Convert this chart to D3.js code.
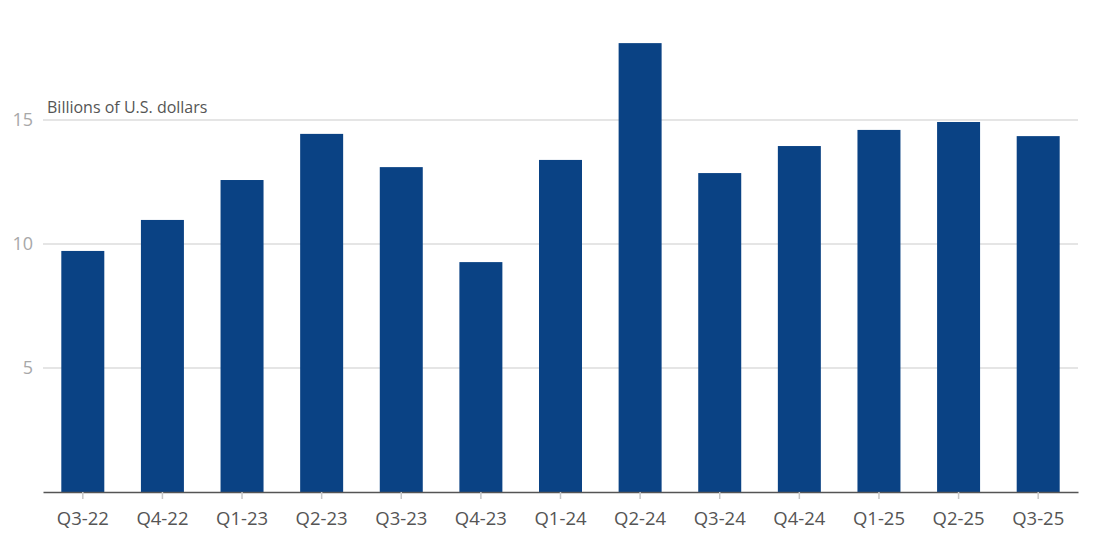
<!DOCTYPE html>
<html><head><meta charset="utf-8">
<script src="https://cdn.jsdelivr.net/npm/d3@7"></script>
<style>body{margin:0;background:#fff}svg{display:block;font-family:"Open Sans",sans-serif}</style>
</head><body><svg id="c" width="1114" height="558"></svg>
<script>
const categories = ["Q3-22","Q4-22","Q1-23","Q2-23","Q3-23","Q4-23","Q1-24","Q2-24","Q3-24","Q4-24","Q1-25","Q2-25","Q3-25"];
const values = [9.72,10.97,12.58,14.44,13.10,9.27,13.39,18.10,12.86,13.95,14.60,14.92,14.35];
const yTicks = [5,10,15];
const unitLabel = "Billions of U.S. dollars";

const svg = d3.select("#c");
const left = 43, right = 1078, bottom = 492;
const x = d3.scaleBand().domain(categories).range([left, right]).paddingInner(0.46).paddingOuter(0.23);
const y = d3.scaleLinear().domain([0, 15]).range([bottom, 120]);

// gridlines
svg.append("g").selectAll("line").data(yTicks).join("line")
  .attr("x1", left).attr("x2", right)
  .attr("y1", d => y(d)).attr("y2", d => y(d))
  .attr("stroke", "#cccccc").attr("stroke-width", 1.2);

// y labels
svg.append("g").selectAll("text").data(yTicks).join("text")
  .attr("x", 33).attr("y", d => y(d)).attr("dy", "0.35em")
  .attr("text-anchor", "end").attr("fill", "#a8a8a8")
  .attr("font-size", 18).text(d => d);

svg.append("text").attr("x", 47).attr("y", 113)
  .attr("fill", "#555").attr("font-size", 16).text(unitLabel);

// bars
svg.append("g").selectAll("rect").data(values).join("rect")
  .attr("x", (d, i) => x(categories[i]))
  .attr("width", x.bandwidth())
  .attr("y", d => y(d))
  .attr("height", d => bottom - y(d))
  .attr("fill", "#0a4284");

// x axis
const xa = svg.append("g").attr("transform", `translate(0,${bottom})`)
  .call(d3.axisBottom(x).tickSize(7).tickSizeOuter(0).tickPadding(13));
xa.select(".domain").attr("stroke", "#555").attr("stroke-width", 1.5);
xa.selectAll(".tick line").attr("stroke", "#c8c8c8").attr("stroke-width", 1.5);
xa.selectAll(".tick text").attr("fill", "#555").attr("font-size", 18.5)
  .attr("font-family", "'Open Sans',sans-serif");
</script></body></html>
